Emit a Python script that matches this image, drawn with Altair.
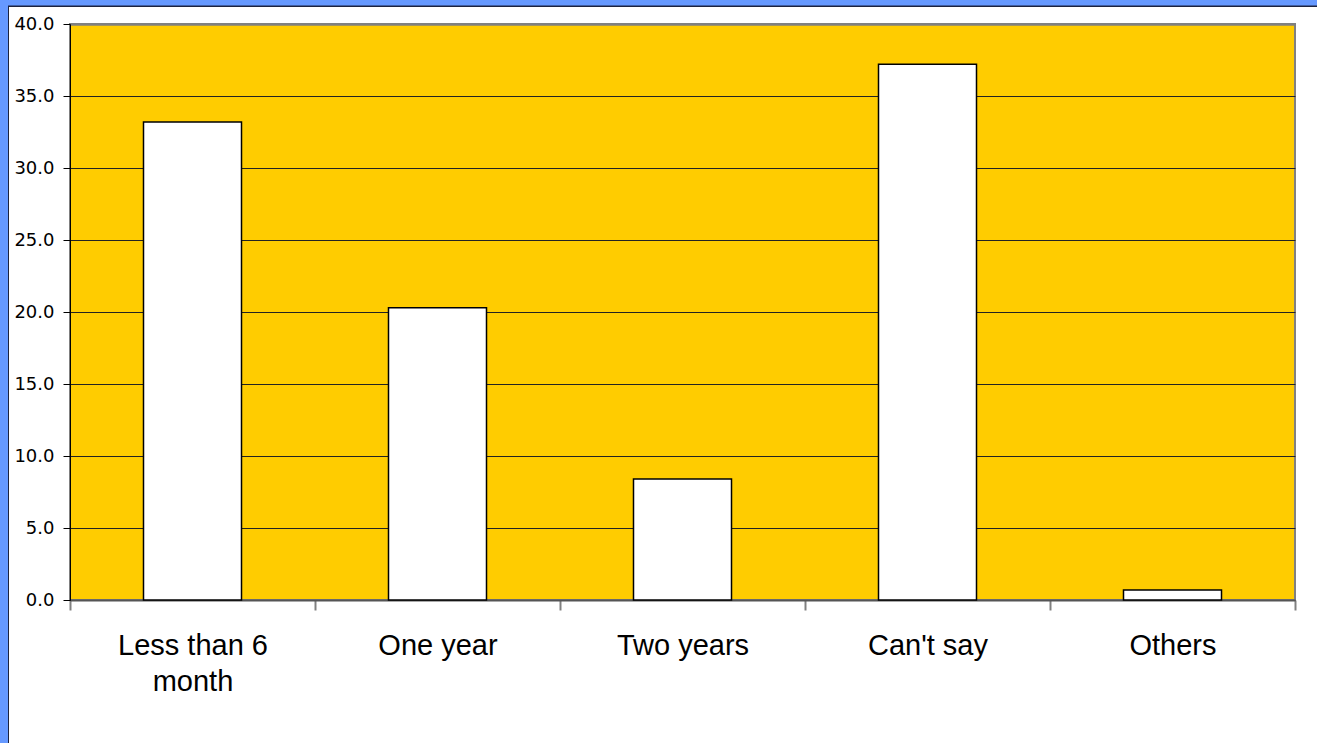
import altair as alt
import pandas as pd

# Survey answers and their percentages
categories = ["Less than 6 month", "One year", "Two years", "Can't say", "Others"]
values = [33.2, 20.3, 8.4, 37.2, 0.7]
y_ticks = [0, 5, 10, 15, 20, 25, 30, 35, 40]

W, H = 1225, 576
PAD_L, PAD_T, PAD_R, PAD_B = 70, 24, 22, 143

df = pd.DataFrame({"category": categories, "value": values})

x_enc = alt.X(
    "category:N",
    sort=categories,
    scale=alt.Scale(paddingInner=0, paddingOuter=0),
    axis=alt.Axis(
        title=None,
        labelAngle=0,
        labelFont="Liberation Sans",
        labelFontSize=29,
        labelColor="black",
        labelPadding=21,
        labelLineHeight=36,
        labelExpr="length(datum.label) > 12 ? [substring(datum.label, 0, 11), substring(datum.label, 12)] : datum.label",
        tickBand="extent",
        tickColor="#808080",
        tickWidth=2,
        tickSize=10,
        domainColor="#555555",
        domainWidth=2,
        grid=False,
    ),
)

y_enc = alt.Y(
    "value:Q",
    scale=alt.Scale(domain=[0, 40], nice=False),
    axis=alt.Axis(
        title=None,
        values=y_ticks,
        format=".1f",
        labelFont="DejaVu Sans",
        labelFontSize=18,
        labelColor="black",
        labelPadding=9,
        tickColor="black",
        tickSize=7,
        domainColor="black",
        domainWidth=1,
        gridColor=alt.condition(alt.datum.value == 40, alt.value("#808080"), alt.value("#222222")),
        gridWidth=alt.condition(alt.datum.value == 40, alt.value(2.5), alt.value(1)),
    ),
)

bars = alt.Chart(df).mark_bar(
    width=alt.RelativeBandSize(0.4),
    color="white",
    stroke="black",
    strokeWidth=1.5,
).encode(x=x_enc, y=y_enc)

# Blue frame along the top and left edges of the page
frame = pd.DataFrame({"k": [0]})
dark = "#1c2340"
blue = "#6699ff"
left_dark = alt.Chart(frame).mark_rect(color=dark).encode(
    x=alt.value(-PAD_L), x2=alt.value(-PAD_L + 9),
    y=alt.value(-PAD_T), y2=alt.value(H + PAD_B),
)
top_dark = alt.Chart(frame).mark_rect(color=dark).encode(
    x=alt.value(-PAD_L), x2=alt.value(W + PAD_R),
    y=alt.value(-PAD_T), y2=alt.value(-PAD_T + 7),
)
left_blue = alt.Chart(frame).mark_rect(color=blue).encode(
    x=alt.value(-PAD_L), x2=alt.value(-PAD_L + 8),
    y=alt.value(-PAD_T), y2=alt.value(H + PAD_B),
)
top_blue = alt.Chart(frame).mark_rect(color=blue).encode(
    x=alt.value(-PAD_L), x2=alt.value(W + PAD_R),
    y=alt.value(-PAD_T), y2=alt.value(-PAD_T + 5.5),
)

chart = (
    alt.layer(bars, left_dark, top_dark, left_blue, top_blue)
    .properties(
        width=W,
        height=H,
        autosize=alt.AutoSizeParams(type="none"),
        padding={"left": PAD_L, "top": PAD_T, "right": PAD_R, "bottom": PAD_B},
        background="white",
    )
    .configure_view(fill="#ffcc00", stroke="#808080", strokeWidth=2)
)

chart.save("out.html", embed_options={"renderer": "svg", "actions": False})
